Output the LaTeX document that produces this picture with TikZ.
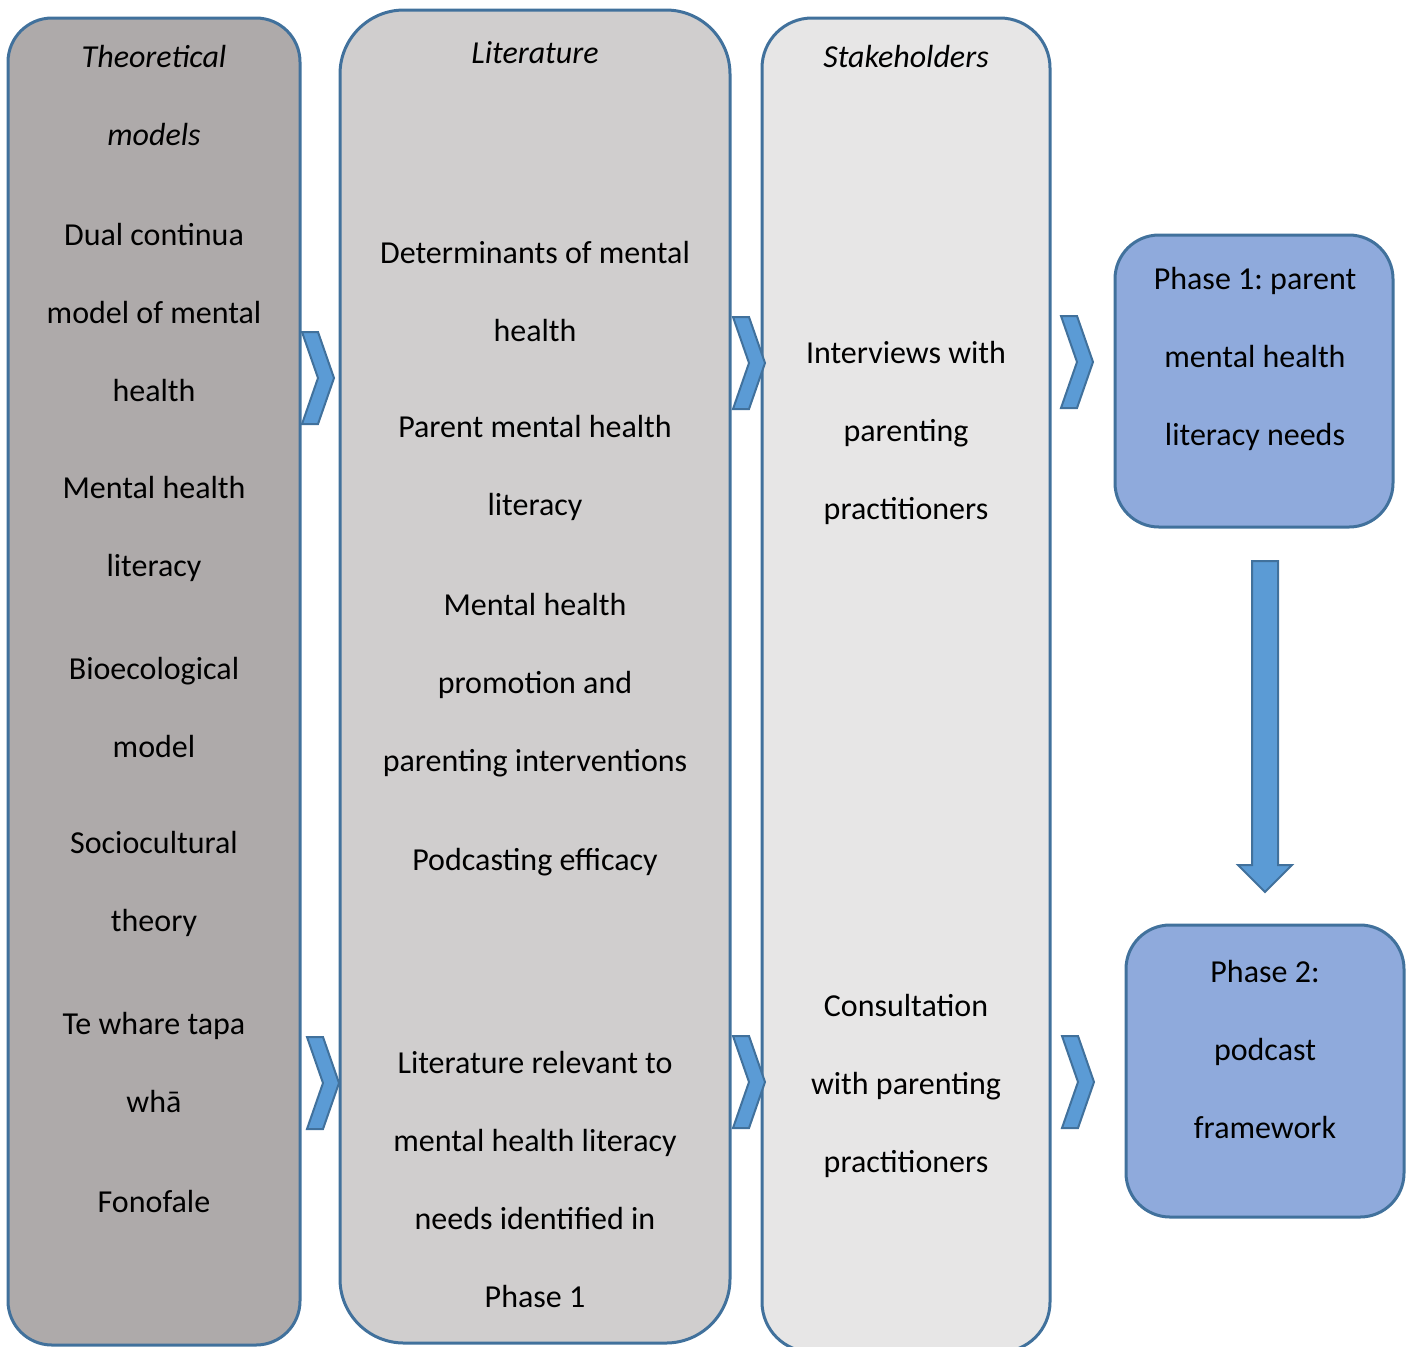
\documentclass[tikz,border=0pt]{standalone}
\usepackage{fontspec}
\setmainfont{Carlito}
\usepackage{tikz}
\usetikzlibrary{calc}

\definecolor{edgeblue}{HTML}{41719C}
\definecolor{theorygray}{HTML}{AEAAAA}
\definecolor{litgray}{HTML}{D0CECE}
\definecolor{stakegray}{HTML}{E7E6E6}
\definecolor{phaseblue}{HTML}{8FAADC}
\definecolor{chevblue}{HTML}{5B9BD5}

\begin{document}
\frenchspacing
\begin{tikzpicture}[
  x=0.5pt, y=-0.5pt,
  every node/.style={font=\fontsize{16}{39}\selectfont, align=center, inner sep=0pt},
  colbox/.style ={draw=edgeblue, line width=1.5pt},
  phase/.style  ={draw=edgeblue, line width=1.5pt, fill=phaseblue, rounded corners=22pt},
  chev/.style   ={draw=edgeblue, line width=1pt, fill=chevblue, line join=miter},
  head/.style   ={font=\fontsize{16}{39}\selectfont\itshape},
]
  \useasboundingbox (0,0) rectangle (1413,1346);

  % the three columns
  \draw[colbox, fill=theorygray, rounded corners=22pt] (8,18)    rectangle (300,1345);
  \draw[colbox, fill=litgray,    rounded corners=32pt] (340,10)  rectangle (730,1343);
  \draw[colbox, fill=stakegray,  rounded corners=25pt] (762,18)  rectangle (1050,1352);

  % theoretical models
  \node[head] (theo)  at (154,95)   {Theoretical\\models};
  \node (dual)        at (154,312)  {Dual continua\\model of mental\\health};
  \node (mhl)         at (154,529)  {Mental health\\literacy};
  \node (bio)         at (154,707)  {Bioecological\\model};
  \node (socio)       at (154,884)  {Sociocultural\\theory};
  \node (whare)       at (154,1062) {Te whare tapa\\whā};
  \node (fono)        at (154,1201) {Fonofale};

  % literature
  \node[head] (lit)   at (535,53)   {Literature};
  \node (determ)      at (535,291)  {Determinants of mental\\health};
  \node (pmhl)        at (535,468)  {Parent mental health\\literacy};
  \node (promo)       at (535,685)  {Mental health\\promotion and\\parenting interventions};
  \node (podeff)      at (535,862)  {Podcasting efficacy};
  \node (litrel)      at (535,1179) {Literature relevant to\\mental health literacy\\needs identified in\\Phase 1};

  % stakeholders
  \node[head] (stake) at (906,56)   {Stakeholders};
  \node (interv)      at (906,433)  {Interviews with\\parenting\\practitioners};
  \node (consult)     at (906,1086) {Consultation\\with parenting\\practitioners};

  % phases
  \draw[phase] (1115,235) rectangle (1393,527);
  \node (phaseone)    at (1255,359) {Phase 1: parent\\mental health\\literacy needs};
  \draw[phase] (1126,925) rectangle (1404,1217);
  \node (phasetwo)    at (1265,1049) {Phase 2:\\podcast\\framework};

  % chevrons between the columns
  \foreach \cx/\cy in {302/332, 307/1037, 733/317, 733/1036, 1061/316, 1062/1036}
    \draw[chev] (\cx,\cy) -- ++(16,0) -- ++(16,46) -- ++(-16,46) -- ++(-16,0) -- ++(16,-46) -- cycle;

  % arrow from phase 1 down to phase 2
  \coordinate (dtop) at (1265,561);
  \draw[chev] ($(dtop)+(-13,0)$) -- ++(26,0) -- ++(0,304) -- ++(14,0) -- ++(-27,27)
    -- ++(-27,-27) -- ++(14,0) -- cycle;
\end{tikzpicture}
\end{document}
